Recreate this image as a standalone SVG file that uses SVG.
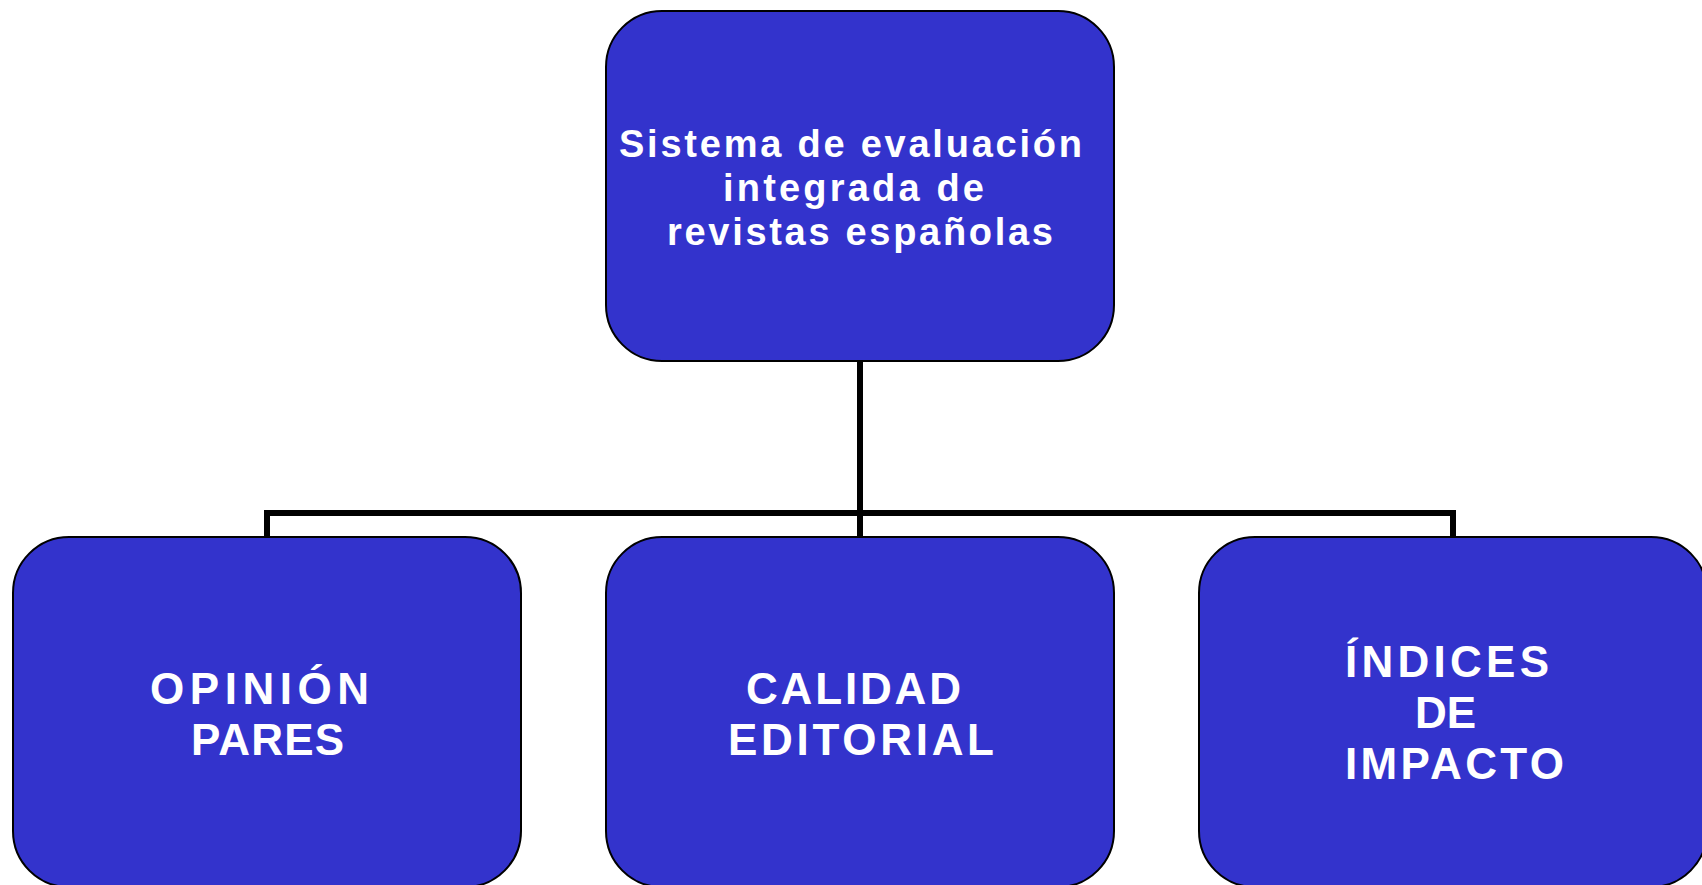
<svg xmlns="http://www.w3.org/2000/svg" width="1702" height="885" viewBox="0 0 1702 885">
  <style>
    .box { fill: #3333CC; stroke: #000000; stroke-width: 2; }
    .lbl { fill: #FFFFFF; font-family: "Liberation Sans", Arial, sans-serif; font-weight: bold; }
    .top { font-size: 38px; }
    .big { font-size: 44px; }
    .conn { fill: none; stroke: #000000; stroke-width: 6; stroke-linejoin: miter; }
  </style>
  <rect width="1702" height="885" fill="#FFFFFF"/>
  <g id="connectors">
    <path class="conn" d="M860,361 V537"/>
    <path class="conn" d="M267,537 V513 H1453 V537"/>
  </g>
  <g id="node-root">
    <rect class="box" x="606" y="11" width="508" height="350" rx="56" ry="56"/>
    <text class="lbl top" x="619" y="157" textLength="463" lengthAdjust="spacing">Sistema de evaluación</text>
    <text class="lbl top" x="723" y="201" textLength="261" lengthAdjust="spacing">integrada de</text>
    <text class="lbl top" x="667" y="245" textLength="386" lengthAdjust="spacing">revistas españolas</text>
  </g>
  <g id="node-opinion">
    <rect class="box" x="13" y="537" width="508" height="350" rx="56" ry="56"/>
    <text class="lbl big" x="150" y="704" textLength="219" lengthAdjust="spacing">OPINIÓN</text>
    <text class="lbl big" x="191" y="755" textLength="153" lengthAdjust="spacing">PARES</text>
  </g>
  <g id="node-calidad">
    <rect class="box" x="606" y="537" width="508" height="350" rx="56" ry="56"/>
    <text class="lbl big" x="746" y="704" textLength="215" lengthAdjust="spacing">CALIDAD</text>
    <text class="lbl big" x="728" y="755" textLength="266" lengthAdjust="spacing">EDITORIAL</text>
  </g>
  <g id="node-indices">
    <rect class="box" x="1199" y="537" width="508" height="350" rx="56" ry="56"/>
    <text class="lbl big" x="1345" y="677" textLength="204" lengthAdjust="spacing">ÍNDICES</text>
    <text class="lbl big" x="1415" y="728" textLength="61" lengthAdjust="spacing">DE</text>
    <text class="lbl big" x="1345" y="779" textLength="219" lengthAdjust="spacing">IMPACTO</text>
  </g>
</svg>
